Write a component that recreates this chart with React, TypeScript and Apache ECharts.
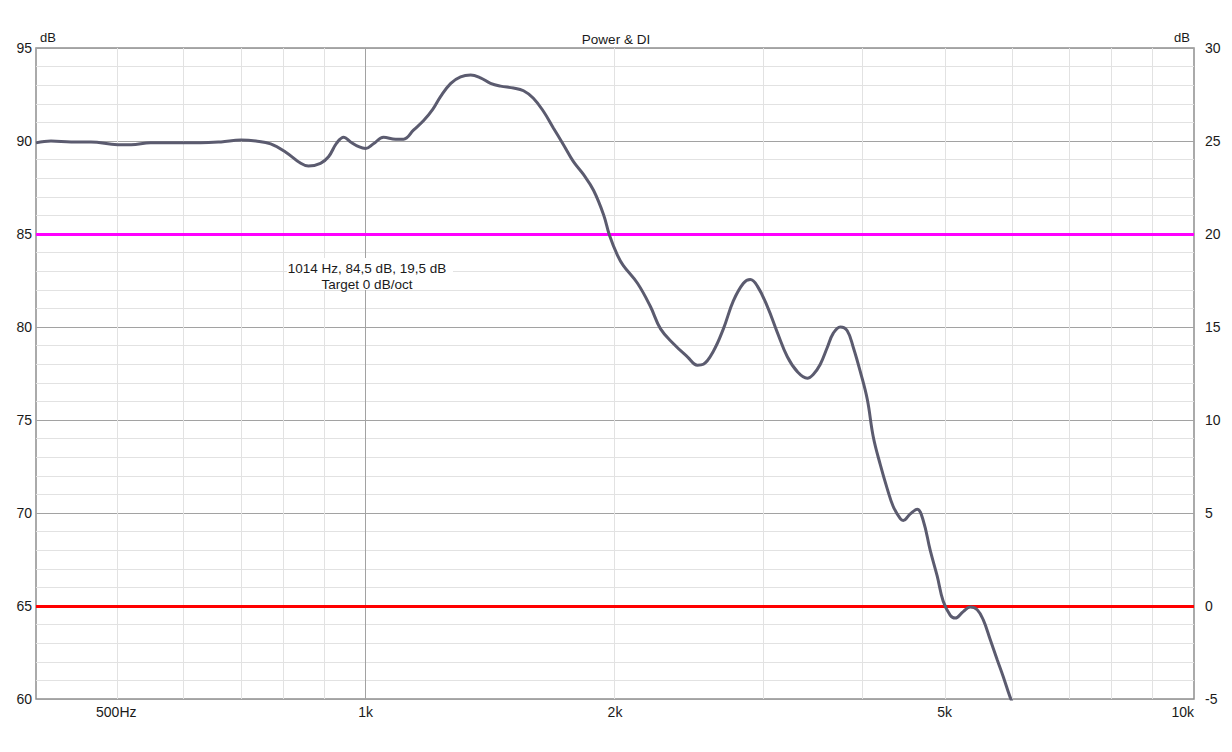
import { useEffect, useRef } from 'react';
import * as echarts from 'echarts';

// ── Data ──
const freqHz = [
  400, 417, 441, 466, 502, 521, 550, 598, 632, 669, 707, 737, 768, 801, 835, 853, 882, 902, 923, 941,
  959, 981, 1000, 1022, 1051, 1087, 1111, 1143, 1175, 1205, 1232, 1267, 1302, 1339, 1376, 1415, 1455,
  1508, 1551, 1594, 1639, 1685, 1733, 1781, 1832, 1884, 1937, 1969, 2014, 2047, 2129, 2207, 2270, 2353,
  2446, 2515, 2557, 2629, 2703, 2779, 2858, 2913, 2971, 3055, 3141, 3229, 3320, 3413, 3470, 3539, 3608,
  3668, 3741, 3814, 3879, 3955, 4033, 4100, 4181, 4263, 4334, 4420, 4457, 4544, 4633, 4711, 4803, 4898,
  4980, 5079, 5149, 5265, 5369, 5474, 5567, 5675, 5788, 5885, 5998, 6082,
];
const powerDb = [
  89.9, 90.0, 89.95, 89.95, 89.8, 89.8, 89.9, 89.9, 89.9, 89.95, 90.05, 90.0, 89.85, 89.4, 88.8, 88.65,
  88.8, 89.15, 89.9, 90.2, 89.95, 89.7, 89.6, 89.85, 90.2, 90.1, 90.1, 90.6, 91.1, 91.7, 92.4, 93.1,
  93.45, 93.55, 93.4, 93.1, 92.95, 92.85, 92.7, 92.3, 91.6, 90.7, 89.8, 88.9, 88.2, 87.35, 86.05, 84.95,
  83.85, 83.3, 82.35, 81.1, 79.9, 79.1, 78.4, 77.95, 78.0, 78.7, 79.9, 81.4, 82.35, 82.55, 82.2, 81.1,
  79.7, 78.4, 77.6, 77.25, 77.45, 78.0, 78.9, 79.66, 80.0, 79.8, 78.9, 77.6, 76.1, 74.1, 72.6, 71.3,
  70.35, 69.7, 69.6, 69.95, 70.2, 69.6, 68.0, 66.6, 65.25, 64.5, 64.35, 64.7, 64.95, 64.8, 64.25, 63.2,
  62.1, 61.2, 60.1, 59.5,
];

const minorGridHz = [500, 600, 700, 800, 900, 2000, 3000, 4000, 5000, 6000, 7000, 8000, 9000];
const majorGridHz = [1000];
const xLabelHz = [500, 1000, 2000, 5000, 10000];
const xLabelText = ['500Hz', '1k', '2k', '5k', '10k'];
const targetLines = [
  { value: 85, color: '#ff00ff' },
  { value: 65, color: '#ff0000' },
];
const annotation = ['1014 Hz, 84,5 dB, 19,5 dB', 'Target 0 dB/oct'];

const X_MIN = 400;
const X_MAX = 10000;
const FONT = '"Liberation Sans", Arial, sans-serif';
const TEXT = '#1a1a1a';
const MINOR = '#e2e2e2';
const MAJOR = '#a2a2a2';
const CURVE = '#5b5b6f';

const lg = (f: number) => Math.log10(f);

export default function App() {
  const ref = useRef<HTMLDivElement>(null);

  useEffect(() => {
    if (!ref.current) return;
    const chart = echarts.init(ref.current, undefined, { renderer: 'svg' });

    const labelValues = xLabelHz.map(lg);

    chart.setOption({
      animation: false,
      backgroundColor: '#ffffff',
      title: {
        text: 'Power & DI',
        left: 'center',
        top: 27,
        textStyle: { fontFamily: FONT, fontSize: 13.5, fontWeight: 'normal', color: TEXT },
      },
      grid: {
        left: 36,
        right: 38,
        top: 48,
        bottom: 53,
        show: true,
        borderColor: '#8e8e8e',
        borderWidth: 1.5,
        backgroundColor: 'transparent',
      },
      xAxis: {
        type: 'value',
        min: lg(X_MIN),
        max: lg(X_MAX),
        axisLine: { show: false },
        axisTick: { show: false },
        splitLine: { show: false },
        axisLabel: {
          customValues: labelValues,
          margin: 6,
          fontFamily: FONT,
          fontSize: 14,
          color: TEXT,
          alignMaxLabel: 'right',
          formatter: (v: number) => {
            const f = Math.round(Math.pow(10, v));
            const i = xLabelHz.indexOf(f);
            return i >= 0 ? xLabelText[i] : '';
          },
        },
      },
      yAxis: [
        {
          type: 'value',
          min: 60,
          max: 95,
          interval: 5,
          position: 'left',
          name: 'dB',
          nameLocation: 'end',
          nameGap: 4,
          nameTextStyle: { fontFamily: FONT, fontSize: 13, color: TEXT, align: 'left', padding: [0, 0, 0, 4] },
          axisLine: { show: false },
          axisTick: { show: false },
          axisLabel: { margin: 4, fontFamily: FONT, fontSize: 14, color: TEXT },
          splitLine: { show: true, lineStyle: { color: MAJOR, width: 1 } },
          minorTick: { show: false, splitNumber: 5 },
          minorSplitLine: { show: true, lineStyle: { color: MINOR, width: 1 } },
        },
        {
          type: 'value',
          min: -5,
          max: 30,
          interval: 5,
          position: 'right',
          name: 'dB',
          nameLocation: 'end',
          nameGap: 4,
          nameTextStyle: { fontFamily: FONT, fontSize: 13, color: TEXT, align: 'right', padding: [0, 4, 0, 0] },
          axisLine: { show: false },
          axisTick: { show: false },
          axisLabel: { margin: 11, fontFamily: FONT, fontSize: 14, color: TEXT },
          splitLine: { show: false },
        },
      ],
      graphic: [
        {
          type: 'rect',
          left: 287,
          top: 258,
          shape: { width: 166, height: 32 },
          style: { fill: '#ffffff' },
          z: 10,
        },
        {
          type: 'text',
          x: 367,
          y: 261,
          z: 11,
          style: {
            text: annotation.join('\n'),
            fontFamily: FONT,
            fontSize: 13.5,
            lineHeight: 15.5,
            fill: TEXT,
            align: 'center',
          },
        },
      ],
      series: [
        {
          name: 'grid',
          type: 'line',
          data: [],
          z: 1,
          silent: true,
          markLine: {
            silent: true,
            symbol: 'none',
            animation: false,
            label: { show: false },
            z: 1,
            data: [
              ...minorGridHz.map(f => ({ xAxis: lg(f), lineStyle: { color: MINOR, width: 1, type: 'solid' } })),
              ...majorGridHz.map(f => ({ xAxis: lg(f), lineStyle: { color: MAJOR, width: 1, type: 'solid' } })),
            ],
          },
        },
        {
          name: 'targets',
          type: 'line',
          data: [],
          z: 2,
          silent: true,
          markLine: {
            silent: true,
            symbol: 'none',
            animation: false,
            label: { show: false },
            z: 2,
            data: targetLines.map(t => ({ yAxis: t.value, lineStyle: { color: t.color, width: 3, type: 'solid' } })),
          },
        },
        {
          name: 'Power',
          type: 'line',
          z: 5,
          data: freqHz.map((f, i) => [lg(f), powerDb[i]]),
          symbol: 'none',
          smooth: 0.4,
          clip: true,
          lineStyle: { color: CURVE, width: 3 },
        },
      ],
    });

    return () => chart.dispose();
  }, []);

  return <div ref={ref} style={{ position: 'absolute', left: 0, top: 0, width: 1232, height: 752 }} />;
}
